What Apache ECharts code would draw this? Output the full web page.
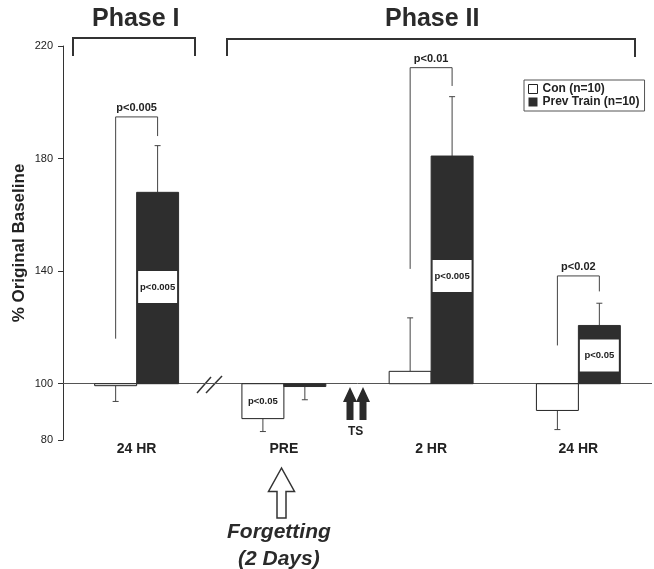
<!DOCTYPE html>
<html>
<head>
<meta charset="utf-8">
<script src="https://cdn.jsdelivr.net/npm/echarts@6/dist/echarts.min.js"></script>
<style>
html,body{margin:0;padding:0;background:#fff;}
#chart{width:654px;height:569px;}
</style>
</head>
<body>
<div id="chart"></div>
<script>
// ---- data ----
const categories = ['24 HR', 'PRE', '2 HR', '24 HR'];
const yTicks = [80, 100, 140, 180, 220];
const conName = 'Con (n=10)';
const prevName = 'Prev Train (n=10)';
const conMean = [99.3, 87.6, 104.4, 90.5];
const conErrEnd = [93.7, 83.0, 123.4, 83.7];
const prevMean = [168.0, 99.0, 180.9, 120.7];
const prevErrEnd = [184.6, 94.3, 202.0, 128.6];
// significance brackets between groups
const sigCat = [0, 2, 3];
const sigLabel = ['p<0.005', 'p<0.01', 'p<0.02'];
const sigTop = [194.8, 212.3, 138.3];
const sigLeftEnd = [116.0, 140.8, 113.6];
const sigRightEnd = [188.0, 205.8, 132.8];
// labels inside bars (side: -1 = Con, 1 = Prev Train)
const inCat = [0, 1, 2, 3];
const inSide = [1, -1, 1, 1];
const inLabel = ['p<0.005', 'p<0.05', 'p<0.005', 'p<0.05'];
const inValue = [134.4, 93.8, 138.3, 110.0];
const baseline = 100;

const FONT = "'Liberation Sans', Arial, sans-serif";
const DARK = '#2e2e2e';
const BAR_FRAC = 0.285;

function barRender(side, fill, stroke) {
  return function (params, api) {
    const i = api.value(0);
    const base = api.coord([i, baseline]);
    const top = api.coord([i, api.value(1)]);
    const err = api.coord([i, api.value(2)]);
    const bw = api.size([1, 0])[0] * BAR_FRAC;
    const x0 = side < 0 ? base[0] - bw : base[0];
    const cx = x0 + bw / 2;
    const y0 = Math.min(base[1], top[1]);
    const h = Math.max(Math.abs(top[1] - base[1]), 1.5);
    return {
      type: 'group',
      children: [
        { type: 'line', shape: { x1: cx, y1: top[1], x2: cx, y2: err[1] }, style: { stroke: '#444', lineWidth: 1 } },
        { type: 'line', shape: { x1: cx - 3, y1: err[1], x2: cx + 3, y2: err[1] }, style: { stroke: '#444', lineWidth: 1 } },
        { type: 'rect', shape: { x: x0, y: y0, width: bw, height: h }, style: { fill: fill, stroke: stroke, lineWidth: 1 } }
      ]
    };
  };
}

const option = {
  animation: false,
  backgroundColor: '#fff',
  textStyle: { fontFamily: FONT },
  grid: { left: 63, right: 2, top: 46, bottom: 129, containLabel: false, outerBoundsMode: 'none' },
  legend: {
    orient: 'vertical',
    left: 524, top: 80,
    itemWidth: 9, itemHeight: 9, itemGap: 1,
    padding: [3, 5, 3, 4],
    borderColor: '#555', borderWidth: 1,
    backgroundColor: '#fff',
    textStyle: { fontSize: 12, fontWeight: 'bold', color: '#222', fontFamily: FONT },
    data: [
      { name: conName, icon: 'rect', itemStyle: { color: '#fff', borderColor: '#222', borderWidth: 1 } },
      { name: prevName, icon: 'rect', itemStyle: { color: DARK } }
    ]
  },
  xAxis: {
    type: 'category',
    data: categories,
    axisLine: { show: false },
    axisTick: { show: false },
    axisLabel: { margin: 2, fontSize: 14, fontWeight: 'bold', color: '#222', fontFamily: FONT, interval: 0 }
  },
  yAxis: {
    type: 'value',
    min: 80, max: 220, interval: 20,
    name: '% Original Baseline',
    nameLocation: 'middle',
    nameGap: 35,
    nameRotate: 90,
    nameMoveOverlap: false,
    nameTextStyle: { fontSize: 17, fontWeight: 'bold', color: '#222', fontFamily: FONT },
    axisLine: { show: true, lineStyle: { color: '#333', width: 1 } },
    axisTick: { show: true, length: 5, customValues: yTicks, lineStyle: { color: '#333' } },
    axisLabel: { customValues: yTicks, margin: 10, fontSize: 11, color: '#222', fontFamily: FONT },
    splitLine: { show: false }
  },
  series: [
    {
      name: conName,
      type: 'custom',
      z: 3,
      itemStyle: { color: '#fff', borderColor: '#222' },
      encode: { x: 0, y: [1, 2] },
      data: categories.map((c, i) => [i, conMean[i], conErrEnd[i]]),
      renderItem: barRender(-1, '#fff', '#222'),
      markLine: {
        silent: true, symbol: 'none', z: 1,
        label: { show: false },
        lineStyle: { color: '#555', width: 1, type: 'solid' },
        data: [{ yAxis: baseline }]
      }
    },
    {
      name: prevName,
      type: 'custom',
      z: 3,
      itemStyle: { color: DARK },
      encode: { x: 0, y: [1, 2] },
      data: categories.map((c, i) => [i, prevMean[i], prevErrEnd[i]]),
      renderItem: barRender(1, DARK, DARK)
    },
    {
      name: 'inside-labels',
      type: 'custom',
      z: 4,
      encode: { x: 0, y: 1 },
      data: inCat.map((c, k) => [c, inValue[k]]),
      renderItem: function (params, api) {
        const k = params.dataIndex;
        const p = api.coord([api.value(0), api.value(1)]);
        const bw = api.size([1, 0])[0] * BAR_FRAC;
        const x0 = inSide[k] < 0 ? p[0] - bw : p[0];
        const bh = 32;
        return {
          type: 'group',
          children: [
            { type: 'rect', shape: { x: x0 + 1.5, y: p[1] - bh / 2, width: bw - 3, height: bh }, style: { fill: '#fff' } },
            { type: 'text', style: { x: x0 + bw / 2, y: p[1], text: inLabel[k], align: 'center', verticalAlign: 'middle', font: 'bold 9.5px ' + FONT, fill: '#222' } }
          ]
        };
      }
    },
    {
      name: 'sig-brackets',
      type: 'custom',
      z: 5,
      encode: { x: 0, y: [1, 2, 3] },
      data: sigCat.map((c, k) => [c, sigTop[k], sigLeftEnd[k], sigRightEnd[k]]),
      renderItem: function (params, api) {
        const k = params.dataIndex;
        const i = api.value(0);
        const bw = api.size([1, 0])[0] * BAR_FRAC;
        const c = api.coord([i, api.value(1)]);
        const lx = c[0] - bw / 2;
        const rx = c[0] + bw / 2;
        const ty = c[1];
        const ly = api.coord([i, api.value(2)])[1];
        const ry = api.coord([i, api.value(3)])[1];
        return {
          type: 'group',
          children: [
            { type: 'polyline', shape: { points: [[lx, ly], [lx, ty], [rx, ty], [rx, ry]] }, style: { fill: null, stroke: '#444', lineWidth: 1 } },
            { type: 'text', style: { x: (lx + rx) / 2, y: ty - 3, text: sigLabel[k], align: 'center', verticalAlign: 'bottom', font: 'bold 11px ' + FONT, fill: '#222' } }
          ]
        };
      }
    }
  ],
  graphic: [
    { type: 'text', left: 92, top: 7, style: { text: 'Phase I', font: 'bold 25px ' + FONT, fill: '#2a2a2a' } },
    { type: 'text', left: 385, top: 7, style: { text: 'Phase II', font: 'bold 25px ' + FONT, fill: '#2a2a2a' } },
    { type: 'polyline', shape: { points: [[73, 56], [73, 38], [195, 38], [195, 56]] }, style: { fill: null, stroke: '#333', lineWidth: 2 } },
    { type: 'polyline', shape: { points: [[227, 56], [227, 39], [635, 39], [635, 57]] }, style: { fill: null, stroke: '#333', lineWidth: 2 } },
    // axis break marks
    { type: 'line', shape: { x1: 197, y1: 393, x2: 211, y2: 377 }, style: { stroke: '#333', lineWidth: 1.5 } },
    { type: 'line', shape: { x1: 206, y1: 393, x2: 222, y2: 376 }, style: { stroke: '#333', lineWidth: 1.5 } },
    // TS arrows
    { type: 'polygon', shape: { points: [[350, 387], [343, 402], [346.5, 402], [346.5, 420], [353.5, 420], [353.5, 402], [357, 402]] }, style: { fill: '#2a2a2a' } },
    { type: 'polygon', shape: { points: [[363, 387], [356, 402], [359.5, 402], [359.5, 420], [366.5, 420], [366.5, 402], [370, 402]] }, style: { fill: '#2a2a2a' } },
    { type: 'text', left: 348, top: 426, style: { text: 'TS', font: 'bold 12px ' + FONT, fill: '#222' } },
    // Forgetting arrow
    { type: 'polygon', shape: { points: [[281.5, 468], [268.5, 491.5], [277, 491.5], [277, 518], [286, 518], [286, 491.5], [294.5, 491.5]] }, style: { fill: '#fff', stroke: '#333', lineWidth: 1.5 } },
    { type: 'text', left: 227, top: 522, style: { text: 'Forgetting', font: 'italic bold 21px ' + FONT, fill: '#2a2a2a' } },
    { type: 'text', left: 238, top: 549, style: { text: '(2 Days)', font: 'italic bold 21px ' + FONT, fill: '#2a2a2a' } }
  ]
};

const chart = echarts.init(document.getElementById('chart'), null, { renderer: 'canvas' });
chart.setOption(option);
</script>
</body>
</html>
